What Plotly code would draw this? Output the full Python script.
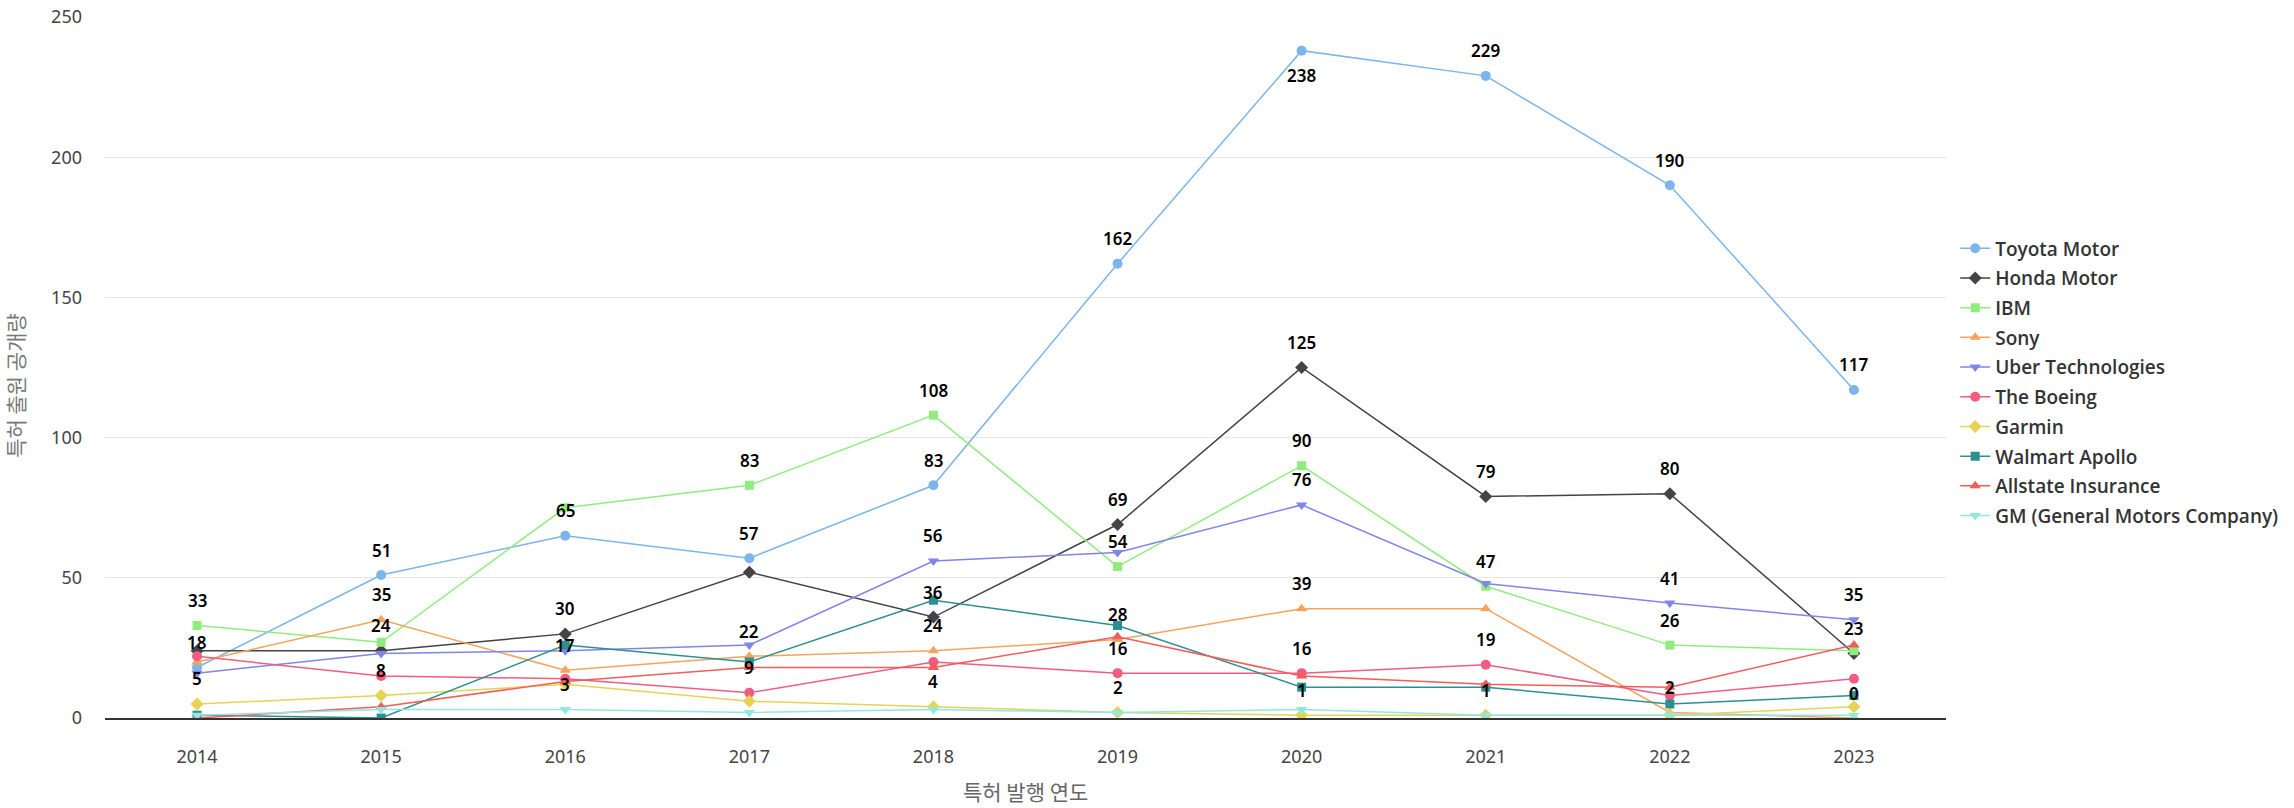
import plotly.graph_objects as go

# ---------------- data ----------------
years = [2014, 2015, 2016, 2017, 2018, 2019, 2020, 2021, 2022, 2023]

series_names = ["Toyota Motor", "Honda Motor", "IBM", "Sony", "Uber Technologies",
                "The Boeing", "Garmin", "Walmart Apollo", "Allstate Insurance",
                "GM (General Motors Company)"]

toyota = [18, 51, 65, 57, 83, 162, 238, 229, 190, 117]
honda = [24, 24, 30, 52, 36, 69, 125, 79, 80, 23]
ibm = [33, 27, 75, 83, 108, 54, 90, 47, 26, 24]
sony = [20, 35, 17, 22, 24, 28, 39, 39, 2, 0]
uber = [16, 23, 24, 26, 56, 59, 76, 48, 41, 35]
boeing = [22, 15, 14, 9, 20, 16, 16, 19, 8, 14]
garmin = [5, 8, 12, 6, 4, 2, 1, 1, 1, 4]
walmart = [1, 0, 26, 20, 42, 33, 11, 11, 5, 8]
allstate = [0, 4, 13, 18, 18, 29, 15, 12, 11, 26]
gm = [1, 3, 3, 2, 3, 2, 3, 1, 1, 1]

all_values = [toyota, honda, ibm, sony, uber, boeing, garmin, walmart, allstate, gm]

x_title = "특허 발행 연도"
y_title = "특허 출원 공개량"
y_max = 250

# ---------------- style ----------------
W, H = 2294, 808
M_L, M_R, M_T, M_B = 105, 348, 17, 90
colors = ["#7cb5ec", "#434348", "#90ed7d", "#f7a35c", "#8085e9",
          "#f15c80", "#e4d354", "#2b908f", "#f45b5b", "#91e8e1"]
symbols = ["circle", "diamond", "square", "triangle-up", "triangle-down",
           "circle", "diamond", "square", "triangle-up", "triangle-down"]
msize = {"circle": 10, "diamond": 10, "square": 9, "triangle-up": 10, "triangle-down": 10}

plot_h = H - M_T - M_B
px_per_unit = plot_h / y_max
LABEL_BOX_PX = 30          # approx. height of a data label box
LABEL_SHIFT_PX = 25        # label centre offset from point
box_units = LABEL_BOX_PX / px_per_unit
shift_units = LABEL_SHIFT_PX / px_per_unit

fig = go.Figure()
for name, vals, c, s in zip(series_names, all_values, colors, symbols):
    fig.add_trace(go.Scatter(
        x=years, y=vals, name=name, mode="lines+markers",
        line=dict(color=c, width=1.5),
        marker=dict(color=c, symbol=s, size=msize[s]),
        legendgroup=name,
    ))

# data labels with overlap hiding (earlier series win)
placed = {i: [] for i in range(len(years))}
annotations = []
for vals in all_values:
    for i, v in enumerate(vals):
        below = v + 2 * shift_units > y_max
        centre = v - shift_units if below else v + shift_units
        if all(abs(centre - p) >= box_units for p in placed[i]):
            placed[i].append(centre)
            annotations.append(dict(
                x=years[i], y=v, xref="x", yref="y", text=str(v), showarrow=False,
                yshift=-LABEL_SHIFT_PX if below else LABEL_SHIFT_PX,
                font=dict(family="Noto Sans", size=17, color="#000000", weight=600),
            ))

annotations.append(dict(
    text=x_title, xref="paper", yref="paper", x=0.5, y=-0.104, showarrow=False,
    xanchor="center", yanchor="middle",
    font=dict(family="Noto Sans CJK KR", size=21, color="#666666")))
annotations.append(dict(
    text=y_title, xref="paper", yref="paper", x=-0.049, y=0.475, showarrow=False,
    textangle=-90, xanchor="center", yanchor="middle",
    font=dict(family="Noto Sans CJK KR", size=21, color="#777777")))

fig.update_layout(
    width=W, height=H,
    margin=dict(l=M_L, r=M_R, t=M_T, b=M_B, autoexpand=False),
    paper_bgcolor="#ffffff", plot_bgcolor="#ffffff",
    font=dict(family="Noto Sans", color="#333333"),
    showlegend=True,
    legend=dict(x=1.005, y=0.697, xanchor="left", yanchor="top",
                font=dict(family="Open Sans", size=19, color="#333333", weight=600),
                tracegroupgap=2, bgcolor="rgba(0,0,0,0)"),
    annotations=annotations,
    xaxis=dict(range=[years[0] - 0.5, years[-1] + 0.5], tickmode="array",
               tickvals=years, ticktext=[str(y) for y in years],
               showgrid=False, zeroline=False, showline=True, linecolor="#333333",
               linewidth=1.5, ticks="", ticklabelstandoff=22,
               tickfont=dict(family="Noto Sans", size=18, color="#444444")),
    yaxis=dict(range=[0, y_max], dtick=50, showgrid=True, gridcolor="#e6e6e6",
               gridwidth=1, zeroline=False, showline=False, ticks="",
               ticklabelstandoff=22,
               tickfont=dict(family="Noto Sans", size=18, color="#444444")),
)

fig.write_html("out.html", config={"displayModeBar": False},
               post_script="document.body.style.margin='0';")
